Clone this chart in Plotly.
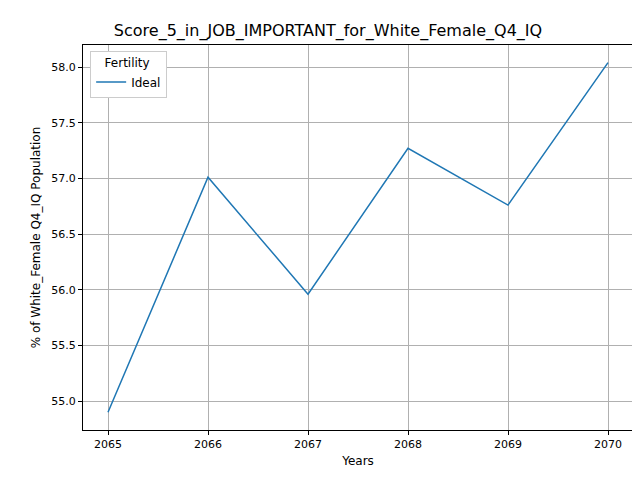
import plotly.graph_objects as go

years = [2065, 2066, 2067, 2068, 2069, 2070]
ideal = [54.90, 57.01, 55.96, 57.27, 56.76, 58.04]
y_ticks = [55.0, 55.5, 56.0, 56.5, 57.0, 57.5, 58.0]

fig = go.Figure()
fig.add_trace(go.Scatter(x=years, y=ideal, mode="lines", name="Ideal",
                         line=dict(color="#1f77b4", width=1.5)))

axis_style = dict(showline=True, linecolor="black", mirror=True, ticks="outside",
                  ticklen=4, tickcolor="black", showgrid=True, gridcolor="#b0b0b0",
                  gridwidth=0.8, zeroline=False, automargin=False,
                  tickfont=dict(size=11, color="black"))

fig.update_layout(
    width=640, height=480,
    margin=dict(l=75, r=15, t=37, b=58),
    plot_bgcolor="white", paper_bgcolor="white",
    font=dict(family="DejaVu Sans", color="black", size=12),
    title=dict(text="Score_5_in_JOB_IMPORTANT_for_White_Female_Q4_IQ",
               x=0.5, xanchor="center", y=0.953, yanchor="middle", font=dict(size=16)),
    xaxis=dict(range=[2064.75, 2070.25], tickvals=years,
               title=dict(text="Years", standoff=6, font=dict(size=12)), **axis_style),
    yaxis=dict(range=[54.74, 58.198], tickvals=y_ticks, tickformat=".1f",
               title=dict(text="% of White_Female Q4_IQ Population", standoff=8, font=dict(size=12)),
               **axis_style),
    legend=dict(x=0.013, y=0.985, xanchor="left", yanchor="top", bgcolor="white",
                bordercolor="#cccccc", borderwidth=1,
                title=dict(text="   Fertility", side="top", font=dict(size=12)),
                font=dict(size=12)),
    showlegend=True,
)

fig.write_html("out.html")
